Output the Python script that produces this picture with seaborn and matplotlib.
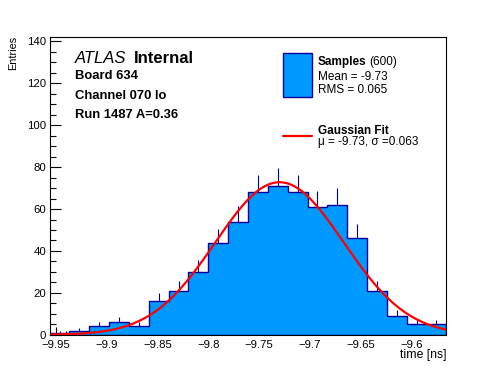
import numpy as np
import pandas as pd
import matplotlib
matplotlib.use("Agg")
import matplotlib.pyplot as plt
from matplotlib.patches import Rectangle
from matplotlib.lines import Line2D
from matplotlib.ticker import MultipleLocator, FuncFormatter
import seaborn as sns

# histogram of time samples (20 bins)
x_min, x_max = -9.956, -9.566
n_bins = 20
counts = [1, 2, 4, 6, 4, 16, 21, 30, 44, 54, 68, 71, 68, 61, 62, 46, 21, 9, 5, 5]
y_max = 142

# gaussian fit
fit_mu = -9.73
fit_sigma = 0.063
fit_amp = 72.8

info_lines = ["Board 634", "Channel 070 lo", "Run 1487 A=0.36"]
legend_samples = "Samples"
legend_count = "(600)"
legend_stats = ["Mean = -9.73", "RMS = 0.065"]
legend_fit = "Gaussian Fit"
legend_fit_pars = "\u03bc = -9.73, \u03c3 =0.063"

W, H = 496, 372
blue = "#0099ff"
navy = "#000099"

sns.set_style("ticks")
plt.rcParams["font.family"] = ["Liberation Sans", "DejaVu Sans"]
plt.rcParams["text.color"] = "black"


def px(x, y):
    # pixel position -> figure fraction
    return x / W, 1 - y / H


fig = plt.figure(figsize=(W / 100, H / 100), dpi=100)
ax = fig.add_axes([0.1, 0.1, 0.8, 0.8])

edges = np.linspace(x_min, x_max, n_bins + 1)
centers = (edges[:-1] + edges[1:]) / 2
df = pd.DataFrame({"t": centers, "n": counts})

# error bars sit under the fill, so only the upper half shows
ax.errorbar(df["t"], df["n"], yerr=np.sqrt(df["n"]), fmt="none",
            ecolor=navy, elinewidth=0.8, capsize=0, zorder=1)
sns.histplot(data=df, x="t", weights="n", bins=list(edges), element="step", fill=True,
             color=blue, edgecolor=navy, linewidth=1.0, alpha=1, ax=ax, zorder=2)

xs = np.linspace(x_min, x_max, 400)
ax.plot(xs, fit_amp * np.exp(-0.5 * ((xs - fit_mu) / fit_sigma) ** 2),
        color="red", lw=1.6, zorder=3)

ax.set_xlim(x_min, x_max)
ax.set_ylim(0, y_max)
ax.set_xlabel("")
ax.set_ylabel("")
ax.xaxis.set_major_locator(MultipleLocator(0.05))
ax.xaxis.set_minor_locator(MultipleLocator(0.01))
ax.yaxis.set_major_locator(MultipleLocator(20))
ax.yaxis.set_minor_locator(MultipleLocator(5))
ax.xaxis.set_major_formatter(FuncFormatter(lambda v, p: f"{v:g}".replace("-", "\u2212")))
ax.tick_params(which="both", direction="in", top=False, right=False,
               labelsize=8.2, width=0.8, color="black", labelcolor="black")
ax.tick_params(axis="y", which="major", length=7.7, pad=2.4)
ax.tick_params(axis="y", which="minor", length=4)
ax.tick_params(axis="x", which="major", length=6, pad=3.4)
ax.tick_params(axis="x", which="minor", length=3)
for s in ax.spines.values():
    s.set_linewidth(0.8)
    s.set_color("black")

# axis titles, ROOT style
fig.text(*px(446, 358), "time [ns]", ha="right", va="baseline", fontsize=8.8)
fig.text(*px(12.7, 36), "Entries", ha="center", va="top", rotation=90, fontsize=7.8)

# ATLAS label block
fig.text(*px(75, 62.7), "ATLAS", style="italic", fontsize=12, va="baseline")
fig.text(*px(134, 62.7), "Internal", weight="bold", fontsize=12, va="baseline")
for line, yb in zip(info_lines, [79, 99.3, 118.3]):
    fig.text(*px(75, yb), line, weight="bold", fontsize=9.4, va="baseline")

# legend drawn by hand
fig.add_artist(Rectangle(px(283, 96.7), 28.7 / W, 43.4 / H, transform=fig.transFigure,
                         facecolor=blue, edgecolor=navy, linewidth=1))
t = fig.text(*px(317.7, 65), legend_samples, weight="bold", fontsize=8.5, va="baseline")
bb = t.get_window_extent(renderer=fig.canvas.get_renderer())
fig.text(*px(bb.x1 + 3, 65), legend_count, fontsize=8.5, va="baseline")
fig.text(*px(317.7, 80), legend_stats[0], fontsize=8.5, va="baseline")
fig.text(*px(317.7, 93.3), legend_stats[1], fontsize=8.5, va="baseline")
x0, y0 = px(283, 135.7)
x1, _ = px(311.7, 135.7)
fig.add_artist(Line2D([x0, x1], [y0, y0], transform=fig.transFigure, color="red", lw=1.6))
fig.text(*px(317.7, 134), legend_fit, weight="bold", fontsize=8.5, va="baseline")
fig.text(*px(317.7, 145), legend_fit_pars, fontsize=8.5, va="baseline")

fig.savefig("out.png", dpi=100)
